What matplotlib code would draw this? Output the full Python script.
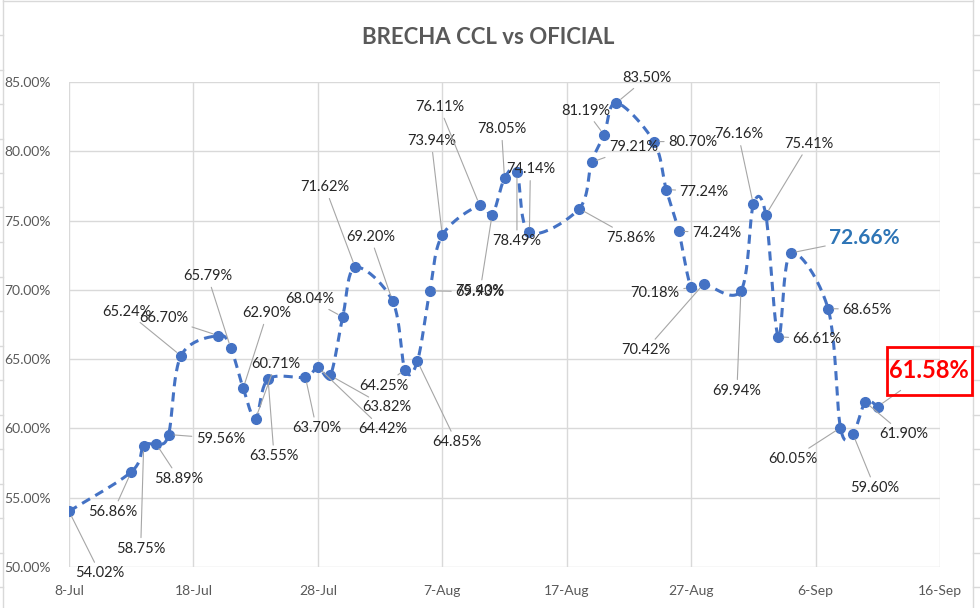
import numpy as np
import pandas as pd
import matplotlib
matplotlib.use('Agg')
import matplotlib.pyplot as plt
import matplotlib.dates as mdates
from matplotlib.lines import Line2D
from matplotlib.patches import Rectangle
from matplotlib.transforms import IdentityTransform

# brecha CCL vs oficial, trading days 2020
dates = ['2020-07-08', '2020-07-13', '2020-07-14', '2020-07-15', '2020-07-16',
         '2020-07-17', '2020-07-20', '2020-07-21', '2020-07-22', '2020-07-23',
         '2020-07-24', '2020-07-27', '2020-07-28', '2020-07-29', '2020-07-30',
         '2020-07-31', '2020-08-03', '2020-08-04', '2020-08-05', '2020-08-06',
         '2020-08-07', '2020-08-10', '2020-08-11', '2020-08-12', '2020-08-13',
         '2020-08-14', '2020-08-18', '2020-08-19', '2020-08-20', '2020-08-21',
         '2020-08-24', '2020-08-25', '2020-08-26', '2020-08-27', '2020-08-28',
         '2020-08-31', '2020-09-01', '2020-09-02', '2020-09-03', '2020-09-04',
         '2020-09-07', '2020-09-08', '2020-09-09', '2020-09-10', '2020-09-11']
brecha = [54.02, 56.86, 58.75, 58.89, 59.56,
          65.24, 66.70, 65.79, 62.90, 60.71,
          63.55, 63.70, 64.42, 63.82, 68.04,
          71.62, 69.20, 64.25, 64.85, 69.93,
          73.94, 76.11, 75.40, 78.05, 78.49,
          74.14, 75.86, 79.21, 81.19, 83.50,
          80.70, 77.24, 74.24, 70.18, 70.42,
          69.94, 76.16, 75.41, 66.61, 72.66,
          68.65, 60.05, 59.60, 61.90, 61.58]

x_ticks = ['2020-07-08', '2020-07-18', '2020-07-28', '2020-08-07', '2020-08-17',
           '2020-08-27', '2020-09-06', '2020-09-16']
x_labels = ['8-Jul', '18-Jul', '28-Jul', '7-Aug', '17-Aug', '27-Aug', '6-Sep', '16-Sep']
y_ticks = [50, 55, 60, 65, 70, 75, 80, 85]

# label offsets in pixels (dx, dy) from each point
label_off = [(31, -62), (-18, -40), (-3, -103), (23, -35), (52, -4),
             (-54, 44), (-55, 18), (-23, 72), (24, 75), (20, 55),
             (6, -77), (11, -51), (65, -62), (57, -32), (-33, 18),
             (-30, 80), (-22, 64), (-21, -16), (39, -81), (50, -1),
             (-11, 94), (-40, 98), (-12, -76), (-3, 49), (0, -69),
             (1, 63), (52, -29), (42, 15), (-18, 24), (30, 25),
             (39, 0), (38, -2), (38, -2), (-36, -6), (-58, -66),
             (-4, -100), (-15, 70), (43, 71), (39, -2), (74, 15),
             (39, -1), (-48, -31), (22, -54), (38, -32), (51, 36)]

blue = '#4472C4'
grid_c = '#D9D9D9'
txt_c = '#595959'
lab_c = '#262626'
plt.rcParams['font.family'] = ['Lato', 'DejaVu Sans']

x = mdates.date2num(pd.to_datetime(dates))
y = np.array(brecha)

# excel style smoothed line (bezier through the points), done in pixel scale
sx, sy = 871 / 70.0, 485 / 35.0
px, py = x * sx, y * sy
P = np.column_stack([px, py])
P = np.vstack([P[0], P, P[-1]])
curve = []
for i in range(1, len(P) - 2):
    p0, p1, p2, p3 = P[i - 1], P[i], P[i + 1], P[i + 2]
    c1 = p1 + (p2 - p0) / 6.0
    c2 = p2 - (p3 - p1) / 6.0
    t = np.linspace(0, 1, 25)[:, None]
    seg = (1 - t) ** 3 * p1 + 3 * (1 - t) ** 2 * t * c1 + 3 * (1 - t) * t ** 2 * c2 + t ** 3 * p2
    curve.append(seg if i == 1 else seg[1:])
curve = np.vstack(curve)

fig = plt.figure(figsize=(9.8, 6.08), dpi=100)
ax = fig.add_axes([69 / 980, 41 / 608, 871 / 980, 485 / 608])

ax.plot(curve[:, 0] / sx, curve[:, 1] / sy, color=blue, lw=2.2,
        linestyle=(0, (3, 2)), zorder=3)
ax.plot(x, y, 'o', color=blue, ms=7, zorder=4)

xt = mdates.date2num(pd.to_datetime(x_ticks))
ax.set_xlim(xt[0], xt[-1])
ax.set_ylim(50, 85)
ax.set_xticks(xt)
ax.set_xticklabels(x_labels)
ax.set_yticks(y_ticks)
ax.set_yticklabels(['%.2f%%' % v for v in y_ticks])
ax.tick_params(axis='both', length=0, colors=txt_c, labelsize=10)
ax.tick_params(axis='y', pad=13)
ax.tick_params(axis='x', pad=13)
ax.grid(True, color=grid_c, lw=1)
ax.set_axisbelow(True)
for s in ax.spines.values():
    s.set_visible(False)

for i, (xi, yi) in enumerate(zip(x, y)):
    dx, dy = label_off[i]
    kw = dict(fontsize=10.5, color=lab_c)
    shrink_a = 1
    if i == len(y) - 6:
        kw = dict(fontsize=15, color='#2E75B6', fontweight='bold')
    if i == len(y) - 1:
        kw = dict(fontsize=17, color='#FF0000', fontweight='bold')
        shrink_a = 7
        # red frame around the last value
        cx, cy = ax.transData.transform((xi, yi))
        fig.patches.append(Rectangle((cx + dx - 42, cy + dy - 24), 85, 48, fill=False,
                                     ec='#FF0000', lw=2, transform=IdentityTransform(),
                                     figure=fig, zorder=6))
    arrow = None
    if np.hypot(dx, dy) > 24:
        arrow = dict(arrowstyle='-', color='#A6A6A6', lw=0.8, shrinkA=shrink_a, shrinkB=4)
    ax.annotate('%.2f%%' % yi, (xi, yi), xytext=(dx, dy), textcoords='offset pixels',
                ha='center', va='center', arrowprops=arrow, zorder=5, **kw)

fig.text(488 / 980, 1 - 37 / 608, 'BRECHA CCL vs OFICIAL', ha='center', va='center',
         fontsize=16, fontweight='bold', color=txt_c)

# sheet frame around the chart
fig.add_artist(Line2D([3 / 980, 3 / 980], [0, 1], color=grid_c, lw=1))
fig.add_artist(Line2D([973 / 980, 973 / 980], [0, 1], color=grid_c, lw=1))
fig.add_artist(Line2D([3 / 980, 973 / 980], [1 - 1 / 608, 1 - 1 / 608], color=grid_c, lw=1))
for r in np.arange(35, 608, 34.5):
    fig.add_artist(Line2D([0, 3 / 980], [1 - r / 608] * 2, color=grid_c, lw=1))
    fig.add_artist(Line2D([973 / 980, 1], [1 - r / 608] * 2, color=grid_c, lw=1))

plt.savefig('out.png', dpi=100)
